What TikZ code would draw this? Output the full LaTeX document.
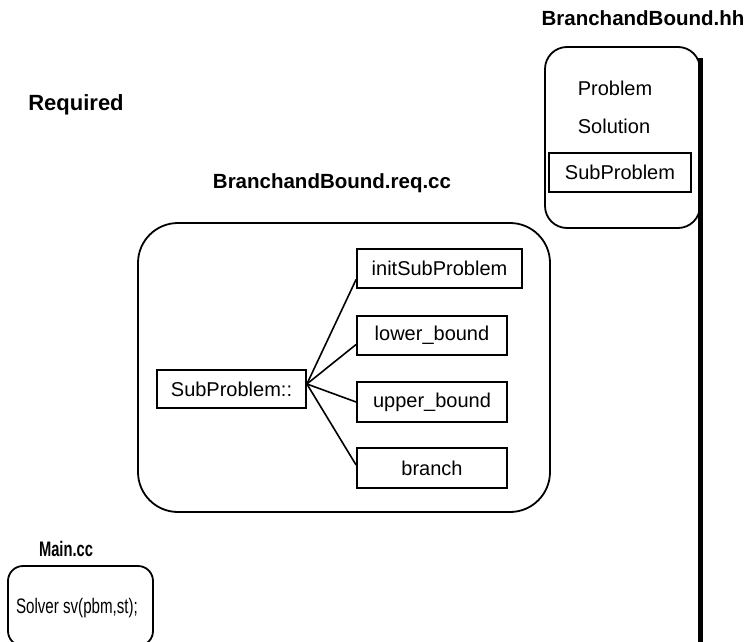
\documentclass[tikz,border=0pt]{standalone}
\usepackage{fontspec}
\setmainfont{Liberation Sans}
\begin{document}
\begin{tikzpicture}[x=1pt,y=-1pt,
  txt/.style={inner sep=0pt,font=\fontsize{20}{24}\selectfont},
  head/.style={inner sep=0pt,font=\fontsize{20.5}{24}\selectfont\bfseries},
  box/.style={draw,line width=1.8pt,inner sep=0pt,font=\fontsize{20}{24}\selectfont},
  container/.style={draw,line width=1.8pt,inner sep=0pt},
  link/.style={line width=1.6pt}]
\useasboundingbox (0,0) rectangle (750,642);
\clip (0,0) rectangle (750,642);
\fill[white] (0,0) rectangle (750,642);

% BranchandBound.hh
\node[head] (hhtitle) at (643,18) {BranchandBound.hh};
\node[container,rounded corners=22pt,minimum width=155pt,minimum height=181pt] (hh) at (622.5,137.5) {};
\coordinate (barTop) at (700,58);
\coordinate (barBot) at (700,650);
\draw[line width=5pt] (barTop) -- (barBot);
\node[txt] (problem) at (615,88) {Problem};
\node[txt] (solution) at (614,126) {Solution};
\node[box,minimum width=142pt,minimum height=39pt] (hhsub) at (620,172.5) {SubProblem};

% Required
\node[inner sep=0pt,font=\fontsize{22}{26}\selectfont\bfseries] (req) at (76,105) {Required};

% BranchandBound.req.cc
\node[head] (cctitle) at (332,183) {BranchandBound.req.cc};
\node[container,rounded corners=40pt,minimum width=412pt,minimum height=289pt] (cc) at (344,367.5) {};
\node[box,minimum width=149pt,minimum height=38pt] (sp) at (231.5,389) {SubProblem::};
\node[box,minimum width=165pt,minimum height=39pt] (init) at (439.5,268.5) {initSubProblem};
\node[box,minimum width=150pt,minimum height=39pt] (lower) at (432,335.5) {lower\_bound};
\node[box,minimum width=150pt,minimum height=40pt] (upper) at (432,402) {upper\_bound};
\node[box,minimum width=150pt,minimum height=40pt] (branch) at (432,468) {branch};

\coordinate (fan) at ([yshift=5pt]sp.east);
\draw[link] (fan) -- ([yshift=-11pt]init.west);
\draw[link] (fan) -- ([yshift=-9pt]lower.west);
\draw[link] (fan) -- (upper.west);
\draw[link] (fan) -- ([yshift=3pt]branch.west);

% Main.cc
\node[inner sep=0pt,font=\fontsize{21}{24}\selectfont\bfseries] (maintitle) at (66,549) {\scalebox{0.7}[1]{Main.cc}};
\node[container,rounded corners=15pt,minimum width=145pt,minimum height=80pt] (mainbox) at (80.5,606) {};
\node[txt] (solver) at (77,608) {\scalebox{0.72}[1]{\fontsize{21}{24}\selectfont Solver sv(pbm,st);}};
\end{tikzpicture}
\end{document}
